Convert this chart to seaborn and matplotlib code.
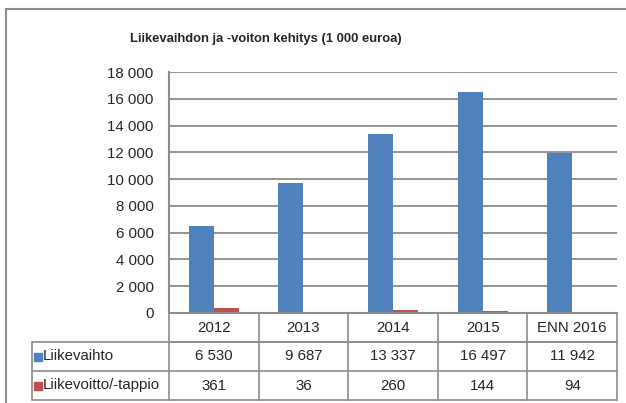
import numpy as np
import pandas as pd
import seaborn as sns
import matplotlib.pyplot as plt

# data
years = ['2012', '2013', '2014', '2015', 'ENN 2016']
liikevaihto = [6530, 9687, 13337, 16497, 11942]
liikevoitto = [361, 36, 260, 144, 94]
series = ['Liikevaihto', 'Liikevoitto/-tappio']
colors = ['#4F81BD', '#C0504D']
title = 'Liikevaihdon ja -voiton kehitys (1 000 euroa)'

df = pd.DataFrame({
    'vuosi': years * 2,
    'arvo': liikevaihto + liikevoitto,
    'sarja': [series[0]] * len(years) + [series[1]] * len(years),
})

sns.set_style('white')
plt.rcParams['font.family'] = ['Liberation Sans', 'DejaVu Sans']

W, H = 626, 403
grey = '#8c8c8c'
fs = 10.8
fig = plt.figure(figsize=(W / 100, H / 100), dpi=100)


def box(x0, y0, x1, y1):
    # pixel box -> figure fraction
    return [x0 / W, 1 - y1 / H, (x1 - x0) / W, (y1 - y0) / H]


def fmt(v):
    return f'{v:,}'.replace(',', ' ')


# outer frame (only left + top visible)
fig.add_artist(plt.Line2D([6 / W, 6 / W], [0, 1 - 9 / H], color=grey, lw=1.5))
fig.add_artist(plt.Line2D([6 / W, 1], [1 - 9 / H, 1 - 9 / H], color=grey, lw=1.5))

fig.text(266 / W, 1 - 39 / H, title, ha='center', va='center',
         fontsize=9.4, fontweight='bold')

# bars
ax = fig.add_axes(box(169, 72, 617, 313))
sns.barplot(data=df, x='vuosi', y='arvo', hue='sarja', palette=colors,
            width=0.56, saturation=1, legend=False, ax=ax, linewidth=0)
ax.set_ylim(0, 18000)
ax.set_xlim(-0.5, len(years) - 0.5)
yt = np.arange(0, 18001, 2000)
ax.set_yticks(yt)
ax.set_yticklabels([fmt(v) for v in yt], fontsize=fs)
ax.tick_params(axis='y', length=0, pad=11)
ax.set_xticks([])
ax.set_xlabel('')
ax.set_ylabel('')
ax.yaxis.grid(True, color=grey, lw=1.3)
ax.set_axisbelow(True)
for s in ['top', 'right']:
    ax.spines[s].set_visible(False)
for s in ['left', 'bottom']:
    ax.spines[s].set_color(grey)
    ax.spines[s].set_linewidth(1.5)

# data table under the bars
n = len(years)
label_w = (169 - 32) / (448 / n)  # label column width in category units
tx = fig.add_axes(box(32, 313, 617, 400))
tx.set_xlim(-0.5 - label_w, n - 0.5)
tx.set_ylim(3, 0)
tx.axis('off')
line_kw = dict(color=grey, lw=1.2, clip_on=False)
# horizontal rules
tx.plot([-0.5, n - 0.5], [1, 1], **line_kw)
tx.plot([-0.5 - label_w, n - 0.5], [1, 1], **line_kw)
tx.plot([-0.5 - label_w, n - 0.5], [2, 2], **line_kw)
tx.plot([-0.5 - label_w, n - 0.5], [3, 3], **line_kw)
# vertical rules
tx.plot([-0.5 - label_w] * 2, [1, 3], **line_kw)
for i in range(n + 1):
    tx.plot([i - 0.5] * 2, [0, 3], **line_kw)

for i, y in enumerate(years):
    tx.text(i, 0.5, y, ha='center', va='center', fontsize=fs)
for r, (name, vals, c) in enumerate(zip(series, [liikevaihto, liikevoitto], colors)):
    yc = r + 1.5
    tx.scatter([-0.5 - label_w + 0.07], [yc], marker='s', s=40, color=c, clip_on=False)
    tx.text(-0.5 - label_w + 0.12, yc, name, ha='left', va='center', fontsize=fs)
    for i, v in enumerate(vals):
        tx.text(i, yc, fmt(v), ha='center', va='center', fontsize=fs)

fig.savefig('out.png', dpi=100)
